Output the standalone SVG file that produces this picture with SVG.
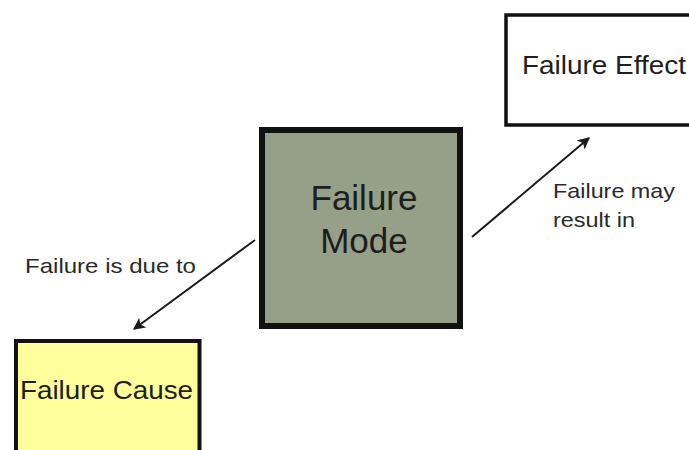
<svg xmlns="http://www.w3.org/2000/svg" width="689" height="450" viewBox="0 0 689 450">
  <defs>
    <marker id="arrow" viewBox="0 0 10 10" refX="9" refY="5" markerWidth="6" markerHeight="6" markerUnits="strokeWidth" orient="auto">
      <path d="M0,0 L10,5 L0,10 L2.5,5 Z" fill="#1a1a1a"/>
    </marker>
  </defs>
  <style>
    text { font-family: "Liberation Sans", Arial, sans-serif; fill: #1e1e1e; }
    .box { stroke: #111; }
    .big { font-size: 35px; text-anchor: middle; }
    .mid { font-size: 26.5px; }
    .lbl { font-size: 21px; fill: #2a2a2a; }
    .conn { stroke: #1a1a1a; stroke-width: 2; fill: none; marker-end: url(#arrow); }
  </style>
  <rect width="689" height="450" fill="#ffffff"/>

  <g id="failure-effect">
    <rect class="box" x="506" y="15" width="200" height="110" fill="#ffffff" stroke-width="3.5"/>
    <text class="mid" x="522" y="74" textLength="164" lengthAdjust="spacingAndGlyphs">Failure Effect</text>
  </g>

  <g id="failure-mode">
    <rect class="box" x="262" y="130" width="198" height="196" fill="#96a088" stroke-width="6"/>
    <text class="big" x="364" y="210">Failure</text>
    <text class="big" x="364" y="253">Mode</text>
  </g>

  <g id="failure-cause">
    <rect class="box" x="16" y="341" width="183.5" height="130" fill="#ffff9c" stroke-width="4"/>
    <text class="mid" x="20" y="399" textLength="173" lengthAdjust="spacingAndGlyphs">Failure Cause</text>
  </g>

  <g id="connectors">
    <line class="conn" x1="255" y1="240" x2="134" y2="329"/>
    <line class="conn" x1="472" y1="237" x2="589" y2="138"/>
    <text class="lbl" x="25" y="273" textLength="171" lengthAdjust="spacingAndGlyphs">Failure is due to</text>
    <text class="lbl" x="553" y="198" textLength="122" lengthAdjust="spacingAndGlyphs">Failure may</text>
    <text class="lbl" x="553" y="227" textLength="82" lengthAdjust="spacingAndGlyphs">result in</text>
  </g>
</svg>
